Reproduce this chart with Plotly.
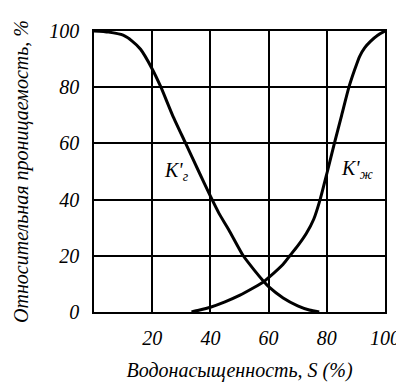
import plotly.graph_objects as go

# Gas relative permeability K'г (x = water saturation %, y = %)
kg_x = [0, 5, 10, 13, 16, 20, 23, 27, 31.5, 36, 40, 43, 46.3, 51.3, 55, 58.4, 60, 65, 70, 74, 77.4]
kg_y = [100, 99.6, 98.5, 96.5, 93.5, 86.5, 80, 70, 60, 50, 41.2, 35, 29.3, 20, 15, 10.8, 9, 5, 2.2, 0.7, 0]

# Liquid relative permeability K'ж
kw_x = [33.5, 36, 40, 45, 50, 55, 58.4, 60, 65, 67.3, 70, 73, 75.5, 77.7, 80.2, 82.6, 85.1, 87.6, 89.5, 91.3, 93, 95.1, 97.5, 100]
kw_y = [0, 0.6, 1.7, 3.6, 5.9, 8.7, 10.8, 12.2, 17, 20, 23.5, 28, 33, 40, 50, 60, 70, 80, 86, 91, 94, 96.4, 98.5, 100]

x_ticks = [20, 40, 60, 80, 100]
y_ticks = [0, 20, 40, 60, 80, 100]

x_title = "Водонасыщенность, S (%)"
y_title = "Относительная проницаемость, %"
label_g = "K'<sub>г</sub>"
label_w = "K'<sub>ж</sub>"

FONT = "Liberation Serif"


def it(s):
    return "<i>" + s + "</i>"


fig = go.Figure()
fig.add_trace(go.Scatter(x=kg_x, y=kg_y, mode="lines",
                         line=dict(color="black", width=3, shape="spline", smoothing=0.6)))
fig.add_trace(go.Scatter(x=kw_x, y=kw_y, mode="lines",
                         line=dict(color="black", width=3, shape="spline", smoothing=0.6)))

fig.add_annotation(x=28.2, y=50, text=it(label_g), showarrow=False,
                   font=dict(family=FONT, size=20, color="black"))
fig.add_annotation(x=90.3, y=50.6, text=it(label_w), showarrow=False,
                   font=dict(family=FONT, size=20, color="black"))

fig.update_xaxes(range=[0, 100], tickvals=x_ticks, ticktext=[it(str(v)) for v in x_ticks],
                 title=dict(text=it(x_title), font=dict(family=FONT, size=20, color="black")),
                 tickfont=dict(family=FONT, size=20, color="black"),
                 ticks="outside", ticklen=7, tickcolor="white",
                 showline=True, linecolor="black", linewidth=1.5, mirror=True,
                 showgrid=True, gridcolor="black", gridwidth=1.5, zeroline=False)
fig.update_yaxes(range=[0, 100], tickvals=y_ticks, ticktext=[it(str(v)) for v in y_ticks],
                 title=dict(text=it(y_title), font=dict(family=FONT, size=20, color="black")),
                 tickfont=dict(family=FONT, size=20, color="black"),
                 ticks="outside", ticklen=9, tickcolor="white",
                 showline=True, linecolor="black", linewidth=1.5, mirror=True,
                 showgrid=True, gridcolor="black", gridwidth=1.5, zeroline=False)

fig.update_layout(width=404, height=382, showlegend=False,
                  margin=dict(l=75, r=17, t=12, b=74),
                  plot_bgcolor="white",
                  font=dict(family=FONT, color="black"))

fig.write_html("out.html")
